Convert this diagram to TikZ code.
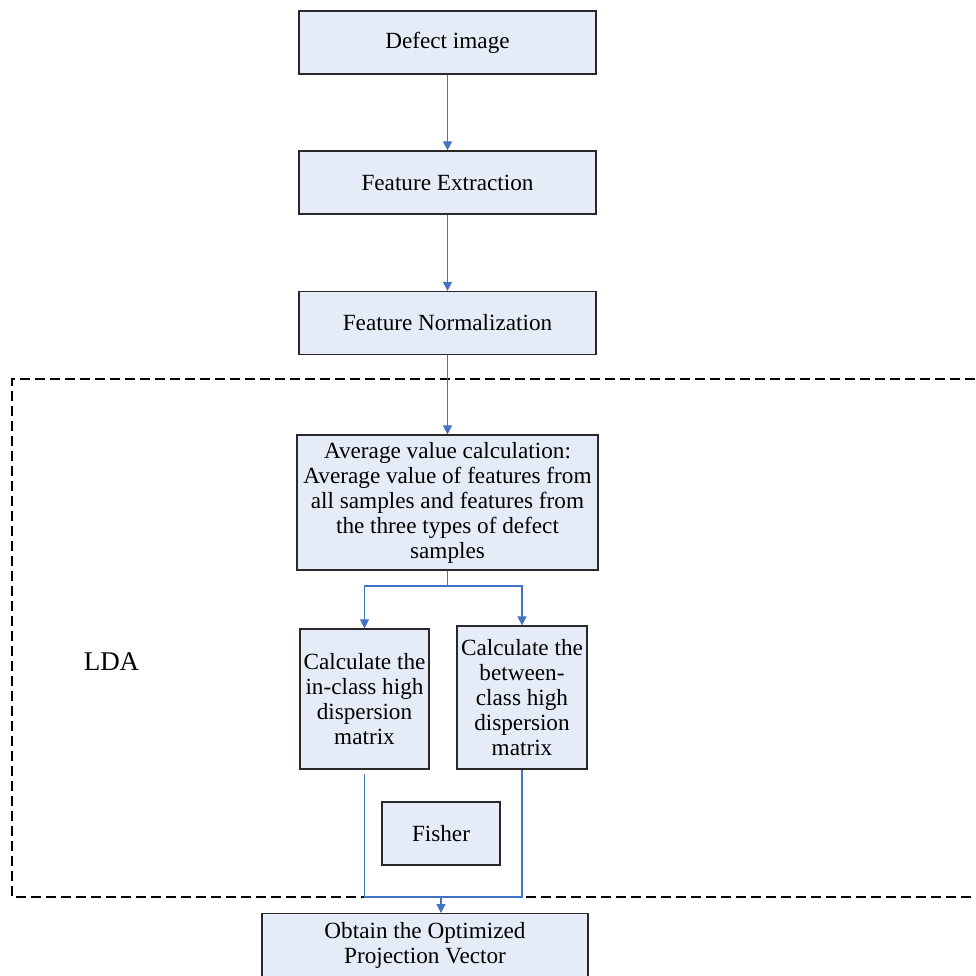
\documentclass[tikz,border=0pt]{standalone}
\usepackage{fontspec}
\setmainfont{Liberation Serif}
\usetikzlibrary{arrows.meta}
\definecolor{boxfill}{RGB}{230,236,247}
\definecolor{arrowblue}{RGB}{68,114,196}
\definecolor{boxline}{RGB}{40,40,40}
\tikzset{
  stepbox/.style={draw=boxline, line width=1.2pt, fill=boxfill, rectangle, inner sep=0pt, align=center,
    font=\fontsize{23.2}{25}\selectfont},
  flow/.style={draw=arrowblue, line width=1.1pt},
  flowarrow/.style={flow, -{Triangle[width=9pt,length=9pt]}},
  ldabox/.style={draw=black, line width=1.3pt, dash pattern=on 10pt off 5pt}
}
\begin{document}
\begin{tikzpicture}[x=1pt,y=-1pt]
\useasboundingbox (0,0) rectangle (976,975);
\clip (0,0) rectangle (976,975);
% LDA dashed region
\coordinate (lt) at (12,379);
\coordinate (lb) at (12,897);
\draw[ldabox] (990,379) -- (lt) -- (lb) -- (990,897);
\node[font=\fontsize{27}{30}\selectfont] (lda) at (111.5,662) {LDA};

\node[stepbox, minimum width=297pt, minimum height=63pt] (d1) at (447.5,42.5) {Defect image};
\node[stepbox, minimum width=297pt, minimum height=63pt] (d2) at (447.5,182.5) {Feature Extraction};
\node[stepbox, minimum width=297pt, minimum height=63pt] (d3) at (447.5,323) {Feature Normalization};
\node[stepbox, minimum width=301pt, minimum height=135pt] (avg) at (447.5,502.5) {Average value calculation:\\Average value of features from\\all samples and features from\\the three types of defect\\samples};
\node[stepbox, minimum width=129pt, minimum height=140pt] (inc) at (364.5,699) {Calculate the\\in-class high\\dispersion\\matrix};
\node[stepbox, minimum width=130pt, minimum height=143pt] (bet) at (522,697.5) {Calculate the\\between-\\class high\\dispersion\\matrix};
\node[stepbox, minimum width=118pt, minimum height=63pt] (fis) at (441,833.5) {Fisher};
\node[stepbox, minimum width=326pt, anchor=north, inner ysep=9pt, minimum height=90pt, text depth=40pt] (fin) at (425,913) {Obtain the Optimized\\Projection Vector};

\draw[flowarrow] (d1) -- (d2);
\draw[flowarrow] (d2) -- (d3);
\draw[flowarrow] (d3) -- (avg);
\coordinate (split) at (447.5,586);
\draw[flow] (avg.south) -- (split);
\draw[flowarrow] (split) -| (inc.north);
\draw[flowarrow] (split) -| (bet.north);
\coordinate (merge) at (441,897);
\draw[flow] ([yshift=-4pt]inc.south) |- (merge);
\draw[flow] (bet.south) |- (merge);
\draw[flowarrow] (merge) -- (merge |- fin.north);
\end{tikzpicture}
\end{document}
